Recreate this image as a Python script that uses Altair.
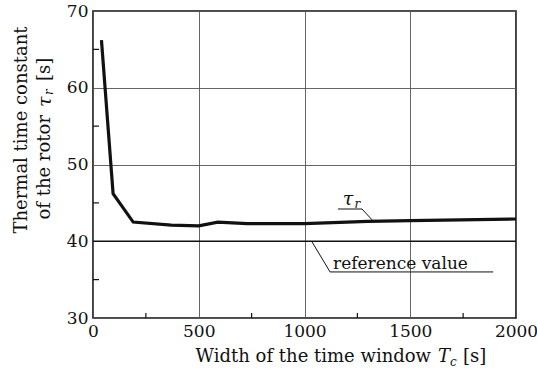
import altair as alt
import pandas as pd

# ---- data ----
window_width = [40, 95, 190, 370, 500, 590, 730, 1000, 1300, 1500, 2000]
tau_r = [66.2, 46.2, 42.5, 42.1, 42.0, 42.5, 42.3, 42.3, 42.6, 42.7, 42.9]
reference_value = 40.0

x_ticks = [0, 500, 1000, 1500, 2000]
y_ticks = [30, 40, 50, 60, 70]
x_minor = [250, 750, 1250, 1750]
y_minor = [35, 45, 55, 65]

FONT = "DejaVu Serif"
W, H = 423, 307

curve_df = pd.DataFrame({"Tc": window_width, "tau": tau_r})
ref_df = pd.DataFrame({"x": [0], "x2": [2000], "y": [reference_value]})

xs = alt.Scale(domain=[0, 2000], nice=False, zero=False)
ys = alt.Scale(domain=[30, 70], nice=False, zero=False)

x_axis = alt.Axis(values=x_ticks, format="d", grid=True, ticks=False, domain=False,
                  labelFont=FONT, labelFontSize=17, labelColor="#111", labelFlush=False,
                  labelPadding=5, title=None, gridColor="#555", gridWidth=0.9)
y_axis = alt.Axis(values=y_ticks, format="d", grid=True, ticks=False, domain=False,
                  labelFont=FONT, labelFontSize=17, labelColor="#111", labelFlush=False,
                  labelPadding=5, title=None, gridColor="#555", gridWidth=0.9)

curve = alt.Chart(curve_df).mark_line(color="#111", strokeWidth=3.2).encode(
    x=alt.X("Tc:Q", scale=xs, axis=x_axis),
    y=alt.Y("tau:Q", scale=ys, axis=y_axis),
)

ref_line = alt.Chart(ref_df).mark_rule(color="#111", strokeWidth=1.6).encode(
    x=alt.X("x:Q", scale=xs), x2="x2:Q", y=alt.Y("y:Q", scale=ys)
)

xminor = alt.Chart(pd.DataFrame({"x": x_minor})).mark_rule(color="#111", strokeWidth=1.2).encode(
    x=alt.X("x:Q", scale=xs), y=alt.value(H), y2=alt.value(H - 5)
)
yminor = alt.Chart(pd.DataFrame({"y": y_minor})).mark_rule(color="#111", strokeWidth=1.2).encode(
    y=alt.Y("y:Q", scale=ys), x=alt.value(0), x2=alt.value(6)
)

# annotation leader lines / underlines (data units)
ann_segments = pd.DataFrame({
    "x": [1158, 1272, 1036, 1121],
    "y": [44.2, 44.2, 39.9, 36.0],
    "x2": [1272, 1319, 1121, 1892],
    "y2": [44.2, 42.8, 36.0, 36.0],
})
ann_lines = alt.Chart(ann_segments).mark_rule(color="#111", strokeWidth=1).encode(
    x=alt.X("x:Q", scale=xs), y=alt.Y("y:Q", scale=ys), x2="x2:Q", y2="y2:Q"
)


def dtext(txt, x, y, size=17, style="normal", align="left", baseline="alphabetic"):
    return alt.Chart(pd.DataFrame({"x": [x], "y": [y]})).mark_text(
        text=txt, font=FONT, fontSize=size, fontStyle=style, align=align,
        baseline=baseline, color="#111"
    ).encode(x=alt.X("x:Q", scale=xs), y=alt.Y("y:Q", scale=ys))


tau_lbl = dtext("τ", 1206, 44.7, size=19, style="italic", align="center")
tau_sub = dtext("r", 1236, 44.3, size=12, style="italic")
ref_lbl = dtext("reference value", 1135, 36.4, size=17)


def ptext(txt, x, y, size=18, style="normal", align="left", baseline="alphabetic", angle=0):
    kw = dict(text=txt, font=FONT, fontSize=size, fontStyle=style, align=align,
              baseline=baseline, color="#111")
    if angle:
        kw["angle"] = angle
    return alt.Chart(pd.DataFrame({"a": [0]})).mark_text(**kw).encode(
        x=alt.value(x), y=alt.value(y)
    )


# x axis title: Width of the time window T_c [s]
xt1 = ptext("Width of the time window", 338, 351, align="right")
xt2 = ptext("T", 345, 351, style="italic")
xt3 = ptext("c", 357, 355, size=12, style="italic")
xt4 = ptext("[s]", 370, 351)

# y axis title (rotated)
yt1 = ptext("Thermal time constant", -71, 119, align="center", baseline="middle", angle=270)
yt2 = ptext("of the rotor", -48, 104, align="right", baseline="middle", angle=270)
yt3 = ptext("τ", -48, 96, size=19, style="italic", baseline="middle", angle=270)
yt4 = ptext("r", -44, 84, size=12, style="italic", baseline="middle", angle=270)
yt5 = ptext("[s]", -48, 70, baseline="middle", angle=270)

chart = alt.layer(
    curve, ref_line, xminor, yminor, ann_lines, tau_lbl, tau_sub, ref_lbl,
    xt1, xt2, xt3, xt4, yt1, yt2, yt3, yt4, yt5,
).properties(
    width=W, height=H,
    autosize=alt.AutoSizeParams(type="none"),
    padding={"left": 93, "top": 11, "right": 21, "bottom": 55},
    background="white",
).configure_view(stroke="#111", strokeWidth=1.6)

chart.save("out.html", embed_options={"renderer": "svg", "actions": False})
